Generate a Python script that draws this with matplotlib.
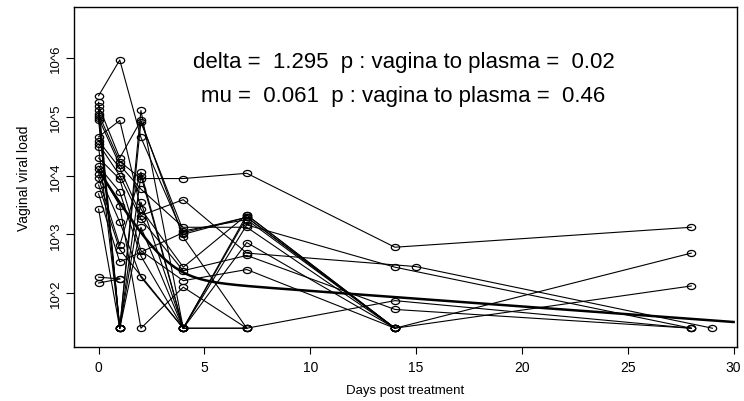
import numpy as np
import matplotlib.pyplot as plt
from matplotlib.path import Path

plt.rcParams["font.family"] = ["Liberation Sans", "DejaVu Sans"]

# log10 viral load, 1.40 = below detection limit
F = 1.40
subj_days = [
    [0, 1, 2, 4, 7, 14, 28],
    [0, 1, 2, 4, 7, 14],
    [0, 1, 2, 4, 7, 14, 28],
    [0, 1, 2, 4, 7, 14, 28],
    [0, 1, 2, 4, 7, 14, 28],
    [0, 1, 2, 4, 7, 14, 28],
    [0, 1, 2, 4, 7, 14],
    [0, 1, 2, 4, 7, 14],
    [0, 1, 2, 4, 7, 14],
    [0, 1, 2, 4, 7, 15, 29],
    [0, 1, 2, 4, 7, 14, 28],
    [0, 1, 2, 4, 7],
    [0, 1, 2, 4, 7, 14],
    [0, 1, 2, 4, 7],
    [0, 1, 2, 4, 7],
    [0, 1, 2, 4, 7],
    [0, 1, 2, 4],
    [0, 1, 4],
    [0, 1, 4, 7, 14],
    [0, 1],
    [0, 1],
    [0, 1],
]
subj_logv = [
    [5.36, 5.97, 4.65, 3.00, 3.29, F, 2.68],
    [5.25, F, 5.11, F, 3.33, F],
    [5.19, 4.30, 4.94, 2.95, F, 1.87, F],
    [5.11, F, 4.91, 3.06, 3.25, F, 2.12],
    [5.05, 4.24, 3.95, 3.95, 4.04, 2.78, 3.12],
    [5.02, F, 4.00, F, 3.16, 2.44, F],
    [4.98, 4.18, 3.77, 3.12, 3.12, F],
    [4.95, F, 3.55, F, 2.86, F],
    [4.66, 4.94, 3.43, 2.44, 3.33, F],
    [4.59, 4.13, 3.32, 3.59, 2.68, 2.45, F],
    [4.54, 4.00, 3.26, 2.38, 2.64, 1.72, F],
    [4.49, F, 3.12, F, F],
    [4.30, 3.94, 2.72, 2.21, 2.40, F],
    [4.16, 3.72, 2.63, F, F],
    [4.11, 3.49, F, 2.10, F],
    [4.03, 3.21, 2.27, F, 3.29],
    [3.96, 2.81, 4.06, F],
    [3.84, 2.74, F],
    [3.69, 2.53, 3.03, 3.29, F],
    [3.43, F],
    [2.27, 2.24],
    [2.17, 2.24],
]

# biexponential fit
delta, mu = 1.295, 0.061
A, B = 12000.0, 200.0
t_fit = np.linspace(0, 30, 300)
v_fit = A * np.exp(-delta * t_fit) + B * np.exp(-mu * t_fit)

xticks = [0, 5, 10, 15, 20, 25, 30]
yticks = [1e2, 1e3, 1e4, 1e5, 1e6]
ylabels = ["10^2", "10^3", "10^4", "10^5", "10^6"]

# slightly flattened open circle like the reference
circ = Path.unit_circle()
oval = Path(circ.vertices * [1.0, 0.73], circ.codes)

fig = plt.figure(figsize=(7.44, 4.02), dpi=100)
ax = fig.add_axes([0.0995, 0.1343, 0.8911, 0.8457])

for d, lv in zip(subj_days, subj_logv):
    ax.plot(d, 10 ** np.array(lv), color="black", lw=0.8,
            marker=oval, ms=6, mfc="none", mec="black", mew=0.9)
ax.plot(t_fit, v_fit, color="black", lw=1.8)

ax.set_yscale("log")
ax.set_xlim(-1.16, 30.16)
ax.set_ylim(10 ** 1.08, 10 ** 6.872)
ax.set_xticks(xticks)
ax.set_yticks(yticks)
ax.set_yticklabels(ylabels, rotation=90, va="center")
ax.minorticks_off()
ax.tick_params(axis="x", length=5, width=0.8, pad=4, labelsize=10)
ax.tick_params(axis="y", length=6, width=0.8, pad=3, labelsize=9.5)
for s in ax.spines.values():
    s.set_linewidth(1.0)

ax.set_xlabel("Days post treatment", fontsize=9.5, labelpad=7.5)
ax.set_ylabel("Vaginal viral load", fontsize=10, labelpad=13)

ax.text(14.4, 10 ** 5.95, "delta =  1.295  p : vagina to plasma =  0.02",
        ha="center", va="center", fontsize=16)
ax.text(14.4, 10 ** 5.37, "mu =  0.061  p : vagina to plasma =  0.46",
        ha="center", va="center", fontsize=16)

fig.savefig("out.png", dpi=100)
